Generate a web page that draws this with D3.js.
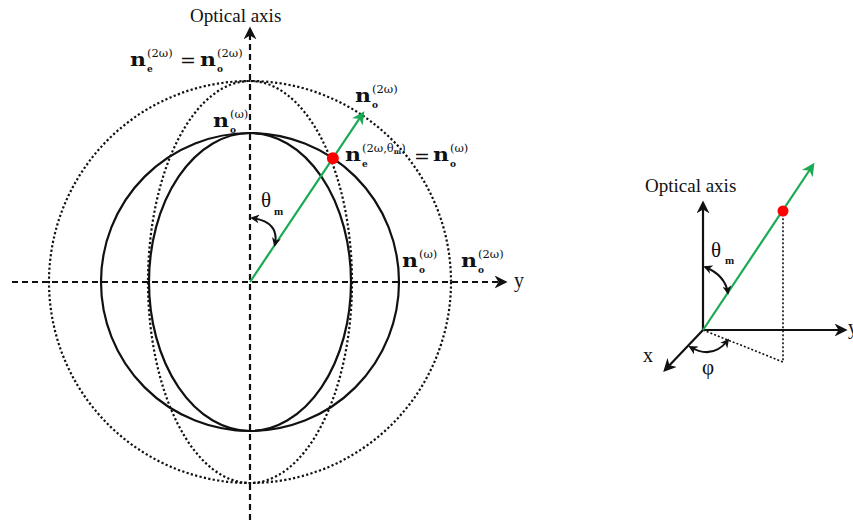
<!DOCTYPE html>
<html lang="en">
<head>
<meta charset="UTF-8">
<title>Phase matching: index ellipsoids</title>
<script src="https://d3js.org/d3.v7.min.js"></script>
<style>
    body { margin: 0; background: #fff; }
    svg text { font-family: "Liberation Serif", "DejaVu Serif", serif; fill: #111; }
    .n { font-family: "DejaVu Serif", serif; font-weight: bold; font-size: 19px; }
    .sup { font-family: "DejaVu Serif", serif; font-size: 11.5px; }
    .sub { font-family: "DejaVu Serif", serif; font-size: 9px; font-weight: bold; }
    .eq { font-family: "DejaVu Serif", serif; font-size: 19px; }
</style>
</head>
<body>
<div id="chart"></div>
<script>
const W = 853, H = 522;

// index surfaces (normalised units, 1 = 100px)
const surfaceNames = ["n_o(w)", "n_e(w)", "n_o(2w)", "n_e(2w)"];
const surfaceRx = [1.49, 1.01, 2.01, 1.02];
const surfaceRy = [1.49, 1.49, 2.01, 2.01];
const surfaceDotted = [false, false, true, true];

// phase matching direction
const thetaM = 33.8;        // degrees from optical axis
const beamLength = 2.03;
const matchRadius = 1.49;   // where n_e(2w, theta) = n_o(w)

// axes extents
const axisY = [-2.38, 2.53];
const axisX = [-2.38, 2.55];

const svg = d3.select("#chart").append("svg")
    .attr("width", W).attr("height", H);

const defs = svg.append("defs");
function marker(id, color, size) {
    defs.append("marker")
        .attr("id", id)
        .attr("viewBox", "0 0 10 10")
        .attr("refX", 8).attr("refY", 5)
        .attr("markerWidth", size).attr("markerHeight", size)
        .attr("markerUnits", "userSpaceOnUse")
        .attr("orient", "auto-start-reverse")
        .append("path")
        .attr("d", "M0,0 L10,5 L0,10 L3,5 Z")
        .attr("fill", color);
}
marker("arrK", "#111", 13);
marker("arrG", "#1aaa55", 13);
marker("arrS", "#111", 9);

// ---------- left diagram ----------
const x = d3.scaleLinear().domain([0, 1]).range([250, 350]);
const y = d3.scaleLinear().domain([0, 1]).range([282, 182]);

const left = svg.append("g");

left.selectAll("ellipse")
    .data(surfaceNames)
    .join("ellipse")
    .attr("cx", x(0)).attr("cy", y(0))
    .attr("rx", (d, i) => x(surfaceRx[i]) - x(0))
    .attr("ry", (d, i) => y(0) - y(surfaceRy[i]))
    .attr("fill", "none")
    .attr("stroke", "#111")
    .attr("stroke-width", (d, i) => surfaceDotted[i] ? 2.2 : 2.2)
    .attr("stroke-dasharray", (d, i) => surfaceDotted[i] ? "2.2,2.3" : null);

// axes
left.append("line")
    .attr("x1", x(axisX[0])).attr("x2", x(axisX[1]))
    .attr("y1", y(0)).attr("y2", y(0))
    .attr("stroke", "#111").attr("stroke-width", 2.2)
    .attr("stroke-dasharray", "6,4")
    .attr("marker-end", "url(#arrK)");
left.append("line")
    .attr("x1", x(0)).attr("x2", x(0))
    .attr("y1", y(axisY[0])).attr("y2", y(axisY[1]))
    .attr("stroke", "#111").attr("stroke-width", 2.2)
    .attr("stroke-dasharray", "6,4")
    .attr("marker-end", "url(#arrK)");

// beam
const th = thetaM * Math.PI / 180;
left.append("line")
    .attr("x1", x(0)).attr("y1", y(0))
    .attr("x2", x(beamLength * Math.sin(th))).attr("y2", y(beamLength * Math.cos(th)))
    .attr("stroke", "#1aaa55").attr("stroke-width", 2.2)
    .attr("marker-end", "url(#arrG)");
left.append("circle")
    .attr("cx", x(matchRadius * Math.sin(th))).attr("cy", y(matchRadius * Math.cos(th)))
    .attr("r", 6).attr("fill", "#f00");

// theta_m curved double arrow
left.append("path")
    .attr("d", `M${x(0) + 2},${y(0.64)} Q${x(0.3)},${y(0.6)} ${x(0.37 * Math.tan(th))},${y(0.37)}`)
    .attr("fill", "none").attr("stroke", "#111").attr("stroke-width", 2)
    .attr("marker-start", "url(#arrS)").attr("marker-end", "url(#arrS)");
left.append("text").attr("x", 261).attr("y", 207).attr("font-size", 21).text("θ");
left.append("text").attr("x", 274).attr("y", 215).attr("font-size", 11).attr("font-weight", "bold").text("m");

left.append("text").attr("x", 190).attr("y", 22).attr("font-size", 19).text("Optical axis");
left.append("text").attr("x", 514).attr("y", 287).attr("font-size", 20).text("y");

// bold n with stacked subscript and superscript
function nLabel(g, px, py, sub, sup, supSub) {
    g.append("text").attr("class", "n").attr("x", px).attr("y", py)
        .attr("textLength", 16).attr("lengthAdjust", "spacingAndGlyphs").text("n");
    const s = g.append("text").attr("class", "sup").attr("x", px + 17).attr("y", py - 9);
    s.append("tspan").text(sup);
    if (supSub) {
        s.append("tspan").attr("dy", 2).attr("font-size", 7).attr("font-weight", "bold").text(supSub);
        s.append("tspan").attr("dy", -2).text(")");
    }
    g.append("text").attr("class", "sub").attr("x", px + 17).attr("y", py + 6).text(sub);
}
nLabel(left, 130, 66, "e", "(2ω)");
left.append("text").attr("class", "eq").attr("x", 180).attr("y", 67).text("=");
nLabel(left, 200, 66, "o", "(2ω)");
nLabel(left, 213, 127, "o", "(ω)");
nLabel(left, 355, 102, "o", "(2ω)");
nLabel(left, 345, 161, "e", "(2ω,θ", "m");
left.append("text").attr("class", "eq").attr("x", 414).attr("y", 163).text("=");
nLabel(left, 433, 161, "o", "(ω)");
nLabel(left, 402, 267, "o", "(ω)");
nLabel(left, 461, 267, "o", "(2ω)");

// ---------- right diagram ----------
const origin = [703, 330];
const rs = d3.scaleLinear().domain([0, 1]).range([0, 100]);
const rightAxes = [[0, 1.27], [1.42, 0], [-0.38, -0.40]];  // [right, up] for optical axis, y, x
const redPoint = [0.80, 1.19];
const groundPoint = [0.80, -0.32];

const right = svg.append("g");
right.selectAll("line.ax")
    .data(rightAxes)
    .join("line").attr("class", "ax")
    .attr("x1", origin[0]).attr("y1", origin[1])
    .attr("x2", d => origin[0] + rs(d[0])).attr("y2", d => origin[1] - rs(d[1]))
    .attr("stroke", "#111").attr("stroke-width", 2.2)
    .attr("marker-end", "url(#arrK)");

right.append("path")
    .attr("d", `M${origin[0]},${origin[1]} L${origin[0] + rs(groundPoint[0])},${origin[1] - rs(groundPoint[1])} L${origin[0] + rs(redPoint[0])},${origin[1] - rs(redPoint[1])}`)
    .attr("fill", "none").attr("stroke", "#111").attr("stroke-width", 1.6)
    .attr("stroke-dasharray", "2,2");

right.append("line")
    .attr("x1", origin[0]).attr("y1", origin[1])
    .attr("x2", origin[0] + rs(1.10)).attr("y2", origin[1] - rs(1.65))
    .attr("stroke", "#1aaa55").attr("stroke-width", 2.2)
    .attr("marker-end", "url(#arrG)");
right.append("circle")
    .attr("cx", origin[0] + rs(redPoint[0])).attr("cy", origin[1] - rs(redPoint[1]))
    .attr("r", 5.5).attr("fill", "#f00");

right.append("path")
    .attr("d", `M${origin[0] + 2},${origin[1] - 63} Q${origin[0] + 22},${origin[1] - 55} ${origin[0] + 25},${origin[1] - 37}`)
    .attr("fill", "none").attr("stroke", "#111").attr("stroke-width", 2)
    .attr("marker-start", "url(#arrS)").attr("marker-end", "url(#arrS)");
right.append("path")
    .attr("d", `M${origin[0] - 13},${origin[1] + 17} Q${origin[0] + 10},${origin[1] + 30} ${origin[0] + 25},${origin[1] + 10}`)
    .attr("fill", "none").attr("stroke", "#111").attr("stroke-width", 2)
    .attr("marker-start", "url(#arrS)").attr("marker-end", "url(#arrS)");

right.append("text").attr("x", 645).attr("y", 192).attr("font-size", 19).text("Optical axis");
right.append("text").attr("x", 711).attr("y", 257).attr("font-size", 21).text("θ");
right.append("text").attr("x", 725).attr("y", 264).attr("font-size", 11).attr("font-weight", "bold").text("m");
right.append("text").attr("x", 643).attr("y", 362).attr("font-size", 20).text("x");
right.append("text").attr("x", 702).attr("y", 374).attr("font-size", 21).text("φ");
right.append("text").attr("x", 848).attr("y", 334).attr("font-size", 20).text("y");
</script>
</body>
</html>
